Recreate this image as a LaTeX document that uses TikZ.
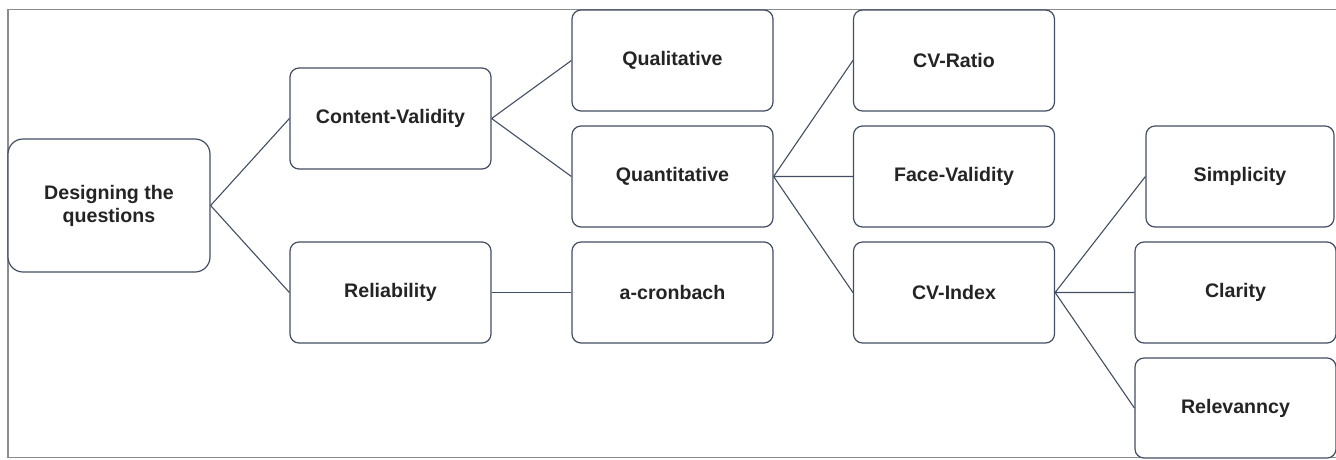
\documentclass[tikz,border=0pt]{standalone}
\usepackage{fontspec}
\setmainfont{Liberation Sans}
\definecolor{boxline}{RGB}{66,78,98}
\definecolor{frameline}{RGB}{140,140,140}
\definecolor{boxtext}{RGB}{36,36,36}
\begin{document}
\begin{tikzpicture}[x=1pt,y=-1pt,
    box/.style={draw=boxline,line width=1.2pt,rounded corners=9pt,fill=white,inner sep=0pt,
      minimum width=201pt,minimum height=101pt,align=center,text=boxtext,
      font=\fontsize{19.6}{23}\selectfont\bfseries},
    link/.style={draw=boxline,line width=1.1pt}]
    \useasboundingbox (0,0) rectangle (1336,459);
    \draw[frameline,line width=1.3pt](1336,9.5)--(8,9.5)--(8,457.5)--(1336,457.5);
    \node[box,minimum width=202pt,minimum height=133pt,rounded corners=15pt](des) at (109,205.5){Designing the\\questions};
    \node[box](cv) at (390.5,118.5){Content-Validity};
    \node[box](rel) at (390.5,292.5){Reliability};
    \node[box](qual) at (672.5,60.5){Qualitative};
    \node[box](quant) at (672.5,176.5){Quantitative};
    \node[box](acr) at (672.5,292.5){a-cronbach};
    \node[box](cvr) at (954,60.5){CV-Ratio};
    \node[box](face) at (954,176.5){Face-Validity};
    \node[box](cvi) at (954,292.5){CV-Index};
    \node[box,minimum width=188pt](simp) at (1240,176.5){Simplicity};
    \node[box](clar) at (1235.5,292.5){Clarity};
    \node[box,minimum height=100pt](relv) at (1235.5,408){Relevanncy};
    \draw[link](des.east)--(cv.west) (des.east)--(rel.west);
    \draw[link](cv.east)--(qual.west) (cv.east)--(quant.west);
    \draw[link](rel.east)--(acr.west);
    \draw[link](quant.east)--(cvr.west) (quant.east)--(face.west) (quant.east)--(cvi.west);
    \draw[link](cvi.east)--(simp.west) (cvi.east)--(clar.west) (cvi.east)--(relv.west);
\end{tikzpicture}
\end{document}
